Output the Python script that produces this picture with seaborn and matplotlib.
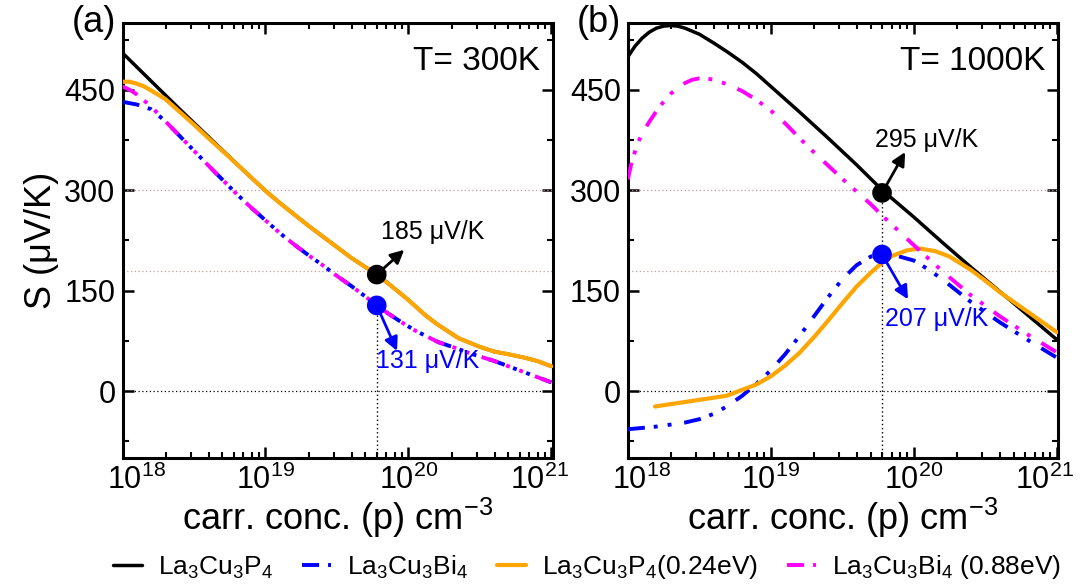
import numpy as np
import pandas as pd
import matplotlib
matplotlib.use("Agg")
import matplotlib.pyplot as plt
import seaborn as sns
from matplotlib.ticker import FixedLocator, LogLocator, NullFormatter
from matplotlib.transforms import ScaledTranslation

# ---------------- data (log10 of carrier concentration, Seebeck in uV/K) ----------------
# panel (a)  T = 300 K
a_lx_black = [18.0, 18.2, 18.4, 18.6, 18.8, 18.9, 19.0, 19.1, 19.2, 19.3, 19.4, 19.5, 19.6, 19.7, 19.78,
              19.88, 20.0, 20.12, 20.2, 20.35, 20.5, 20.6, 20.7, 20.81, 20.9, 21.0]
a_s_black = [505, 463, 421, 380, 339, 319, 299, 281, 264, 247, 231, 215, 199, 185, 174,
             157, 136, 113, 100, 79, 66, 59, 55, 50, 45, 37]
a_lx_blue = [18.0, 18.1, 18.2, 18.3, 18.4, 18.6, 18.8, 18.9, 19.0, 19.1, 19.2, 19.3, 19.4, 19.5, 19.6, 19.7,
             19.78, 19.85, 19.95, 20.05, 20.21, 20.32, 20.45, 20.6, 20.7, 20.8, 20.9, 21.0]
a_s_blue = [432, 428, 421, 403, 381, 337, 294, 274, 255, 236, 219, 203, 188, 172, 157, 141,
            128, 117, 103, 90, 73, 65, 55, 45, 37, 29, 21, 13]
a_lx_orange = [18.0, 18.05, 18.1, 18.15, 18.2, 18.3, 18.4, 18.5, 18.6, 18.8, 18.9, 19.0, 19.1, 19.2, 19.3, 19.4,
               19.5, 19.6, 19.7, 19.78, 19.88, 20.0, 20.12, 20.2, 20.35, 20.5, 20.6, 20.7, 20.81, 20.9, 21.0]
a_s_orange = [462, 462, 459, 455, 449, 436, 417, 398, 378, 339, 319, 299, 281, 264, 247, 231,
              215, 199, 185, 174, 157, 136, 113, 100, 79, 66, 59, 55, 50, 45, 37]
a_lx_magenta = [18.0, 18.05, 18.1, 18.2, 18.4, 18.6, 18.8, 18.9, 19.0, 19.1, 19.2, 19.3, 19.4, 19.5, 19.6, 19.7,
                19.78, 19.85, 19.95, 20.05, 20.21, 20.32, 20.45, 20.6, 20.7, 20.8, 20.9, 21.0]
a_s_magenta = [455, 450, 443, 425, 381, 337, 294, 274, 255, 236, 219, 203, 188, 172, 157, 141,
               128, 117, 103, 90, 73, 65, 55, 45, 37, 29, 21, 13]

# panel (b)  T = 1000 K
b_lx_black = [18.0, 18.05, 18.1, 18.15, 18.2, 18.25, 18.3, 18.35, 18.4, 18.5, 18.6, 18.7, 18.8, 18.9, 19.0,
              19.2, 19.4, 19.6, 19.78, 20.0, 20.2, 20.4, 20.6, 20.8, 21.0]
b_s_black = [499, 515, 527, 536, 542, 545, 546, 545, 542, 533, 520, 506, 491, 474, 455,
             417, 378, 338, 300, 260, 222, 185, 149, 113, 77]
b_lx_blue = [18.0, 18.2, 18.4, 18.5, 18.6, 18.7, 18.8, 18.9, 19.0, 19.1, 19.2, 19.3, 19.4, 19.5, 19.6, 19.7,
             19.78, 19.9, 20.0, 20.1, 20.2, 20.3, 20.4, 20.6, 20.8, 21.0]
b_s_blue = [-57, -53, -47, -42, -34, -22, -7, 11, 31, 55, 82, 111, 140, 167, 188, 201,
            204, 201, 195, 182, 167, 150, 133, 103, 76, 50]
b_lx_orange = [18.19, 18.69, 18.9, 19.0, 19.1, 19.2, 19.3, 19.4, 19.5, 19.6, 19.7, 19.78, 19.85, 19.95, 20.04,
               20.15, 20.25, 20.4, 20.5, 20.6, 20.8, 21.0]
b_s_orange = [-23, -7, 10, 22, 38, 57, 80, 105, 131, 156, 177, 192, 202, 210, 213,
              209, 201, 181, 165, 148, 118, 88]
b_lx_magenta = [18.0, 18.03, 18.07, 18.1, 18.15, 18.2, 18.25, 18.3, 18.35, 18.4, 18.45, 18.5, 18.55, 18.6, 18.7,
                18.8, 18.9, 19.0, 19.1, 19.2, 19.3, 19.4, 19.5, 19.6, 19.7, 19.78, 19.9, 20.0, 20.2, 20.4,
                20.6, 20.8, 21.0]
b_s_magenta = [316, 345, 370, 385, 402, 418, 432, 444, 453, 460, 465, 467, 467, 465, 458,
               448, 435, 419, 400, 378, 357, 337, 317, 298, 279, 262, 238, 218, 179, 143,
               112, 84, 58]

series_labels = ["La$_3$Cu$_3$P$_4$", "La$_3$Cu$_3$Bi$_4$", "La$_3$Cu$_3$P$_4$(0.24eV)", "La$_3$Cu$_3$Bi$_4$ (0.88eV)"]
temps = ["T= 300K", "T= 1000K"]
panel_tags = ["(a)", "(b)"]
x_ticks = [1e18, 1e19, 1e20, 1e21]
y_ticks = [0, 150, 300, 450]

p_mark = 6e19
a_dots = [174, 128]
b_dots = [296, 204]
a_notes = ["185 μV/K", "131 μV/K"]
b_notes = ["295 μV/K", "207 μV/K"]

# ---------------- style ----------------
sns.set_theme(style="ticks")
plt.rcParams["font.family"] = ["Liberation Sans", "DejaVu Sans"]
plt.rcParams["mathtext.fontset"] = "custom"
plt.rcParams["mathtext.rm"] = "Liberation Sans"
plt.rcParams["mathtext.it"] = "Liberation Sans"
plt.rcParams["mathtext.default"] = "regular"
for key in ["text.color", "axes.labelcolor", "xtick.color", "ytick.color", "axes.edgecolor"]:
    plt.rcParams[key] = "black"

colors = ["black", "#0000ff", "#ffa500", "#ff00ff"]
widths = [2.5, 2.8, 3.0, 2.8]
dashdotdot = (0, (4.4, 2.3, 1.0, 2.6, 1.0, 3.3))
styles = ["-", dashdotdot, "-", dashdotdot]

fig = plt.figure(figsize=(10.89, 5.85), dpi=100)
ax1 = fig.add_axes([0.1125, 0.217, 0.395, 0.744])
ax2 = fig.add_axes([0.5765, 0.217, 0.395, 0.744])

panels = [
    (ax1, [(a_lx_black, a_s_black), (a_lx_blue, a_s_blue), (a_lx_orange, a_s_orange), (a_lx_magenta, a_s_magenta)], a_dots, a_notes),
    (ax2, [(b_lx_black, b_s_black), (b_lx_blue, b_s_blue), (b_lx_orange, b_s_orange), (b_lx_magenta, b_s_magenta)], b_dots, b_notes),
]

note_text_pos = [[(19.81, 238), (19.77, 45)], [(19.73, 375), (19.80, 107)]]
arrow_end = [[(19.97, 211), (19.92, 60)], [(19.94, 357), (19.96, 137)]]
note_colors = ["black", "#0000ff"]

for k, (ax, data, dots, notes) in enumerate(panels):
    ax.axhline(0, color="black", lw=0.9, ls=(0, (1, 2)), zorder=1)
    ax.axhline(300, color="#c89a9a", lw=0.9, ls=(0, (1, 2)), zorder=1)
    ax.axhline(180, color="#c89a9a", lw=0.9, ls=(0, (1, 2)), zorder=1)
    ax.plot([p_mark, p_mark], [-100, dots[1] if k == 0 else dots[0]], color="black", lw=1.0,
            ls=(0, (1, 2)), zorder=1)
    for i, (lx, s) in enumerate(data):
        df = pd.DataFrame({"p": np.power(10.0, lx), "S": s})
        sns.lineplot(data=df, x="p", y="S", ax=ax, color=colors[i], lw=widths[i],
                     linestyle=styles[i], sort=False, estimator=None, label=series_labels[i], zorder=2 + i)
    dot_df = pd.DataFrame({"p": [p_mark, p_mark], "S": dots, "c": ["k", "b"]})
    sns.scatterplot(data=dot_df, x="p", y="S", ax=ax, hue="c", palette={"k": "black", "b": "#0000ff"},
                    s=200, edgecolor="none", legend=False, zorder=10)
    for j in range(2):
        ax.annotate("", xy=(10 ** arrow_end[k][j][0], arrow_end[k][j][1]), xytext=(p_mark, dots[j]),
                    arrowprops=dict(arrowstyle="-|>", color=note_colors[j], lw=2.0, mutation_scale=20,
                                    shrinkA=0, shrinkB=0), zorder=11)
        ax.text(10 ** note_text_pos[k][j][0], note_text_pos[k][j][1], notes[j], color=note_colors[j],
                fontsize=18, ha="left", va="center", zorder=12)

    ax.set_xscale("log")
    ax.set_xlim(1e18, 1.02e21)
    ax.set_ylim(-100, 550)
    ax.yaxis.set_major_locator(FixedLocator(y_ticks))
    ax.yaxis.set_minor_locator(FixedLocator([-75, 75, 225, 375, 525]))
    ax.xaxis.set_major_locator(FixedLocator(x_ticks))
    ax.xaxis.set_minor_locator(LogLocator(base=10, subs=np.arange(2, 10), numticks=20))
    ax.xaxis.set_minor_formatter(NullFormatter())
    ax.tick_params(which="major", direction="in", length=8, width=1.8, top=True, right=True, labelsize=22, pad=5)
    ax.tick_params(which="minor", direction="in", length=4, width=1.5, top=True, right=True)
    for sp in ax.spines.values():
        sp.set_linewidth(2.2)
    ax.set_xlabel("carr. conc. (p) cm$^{-3}$", fontsize=26, labelpad=0)
    ax.set_ylabel("")
    ax.text(0.97, 0.91, temps[k], transform=ax.transAxes, fontsize=24, ha="right", va="center")
    ax.text(-0.015, 1.0, panel_tags[k], transform=ax.transAxes, fontsize=26, ha="right", va="center")
    ax.get_legend().remove()
    # edge tick labels pulled slightly inward
    ticks = ax.xaxis.get_major_ticks()
    ticks[0].label1.set_transform(ticks[0].label1.get_transform() + ScaledTranslation(14 / 100, 0, fig.dpi_scale_trans))
    ticks[-1].label1.set_transform(ticks[-1].label1.get_transform() + ScaledTranslation(-12 / 100, 0, fig.dpi_scale_trans))

ax1.set_ylabel("S (μV/K)", fontsize=26, labelpad=4)

handles, labels = ax1.get_legend_handles_labels()
fig.legend(handles[:4], labels[:4], loc="center", bbox_to_anchor=(0.539, 0.03), ncol=4, frameon=False,
           fontsize=19, handlelength=1.1, columnspacing=1.1, handletextpad=0.6)

fig.savefig("out.png", dpi=100)
